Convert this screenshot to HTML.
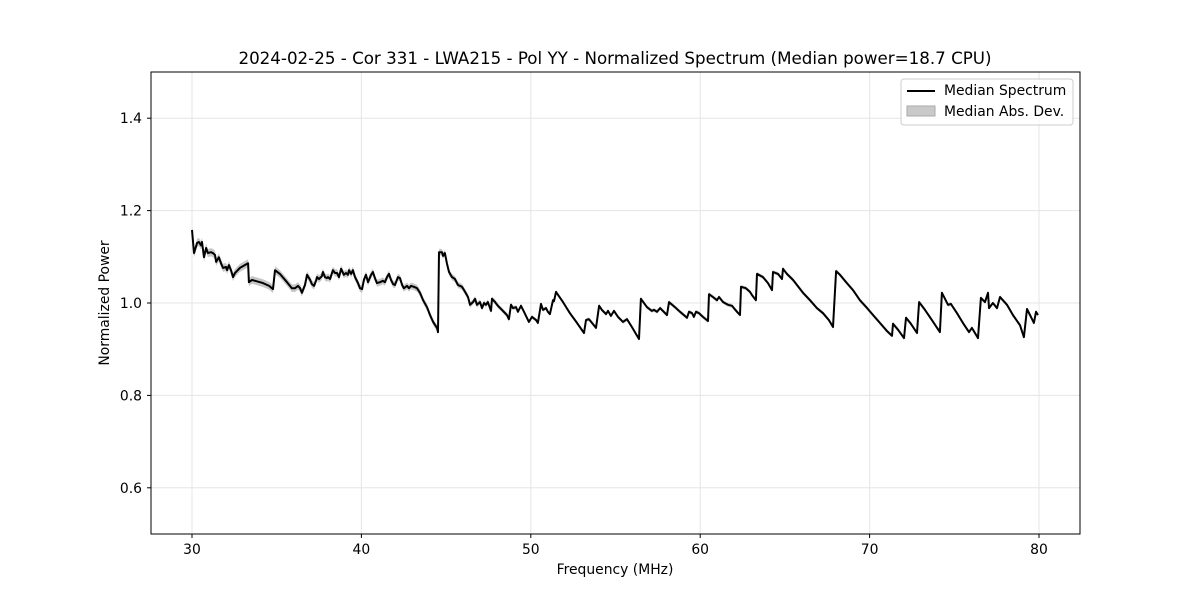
<!DOCTYPE html>
<html><head><meta charset="utf-8"><style>
body{margin:0;background:#fff;font-family:"Liberation Sans","DejaVu Sans",sans-serif}
svg text{font-family:"DejaVu Sans","Liberation Sans",sans-serif}
</style></head><body>
<svg id="chart" width="1200" height="600" xmlns="http://www.w3.org/2000/svg">
<rect width="1200" height="600" fill="#fff"/>
<text x="615" y="64" font-size="16.7" text-anchor="middle">2024-02-25 - Cor 331 - LWA215 - Pol YY - Normalized Spectrum (Median power=18.7 CPU)</text>
<g id="grid"></g>
<g id="series"></g>
<rect x="151" y="72" width="929" height="462" fill="none" stroke="#000" stroke-width="1"/>
<g id="axes"></g>
<text x="615" y="574" font-size="13.9" text-anchor="middle">Frequency (MHz)</text>
<text transform="translate(109,303) rotate(-90)" font-size="13.9" text-anchor="middle">Normalized Power</text>
<g>
<rect x="901" y="79" width="172" height="46" rx="3" fill="#fff" fill-opacity="0.8" stroke="#ccc"/>
<line x1="907" y1="91" x2="935" y2="91" stroke="#000" stroke-width="2"/>
<text x="944" y="95" font-size="13.9">Median Spectrum</text>
<rect x="907" y="106" width="28" height="10" fill="#bbb" fill-opacity="0.8" stroke="#aaa"/>
<text x="944" y="116" font-size="13.9">Median Abs. Dev.</text>
</g>
</svg>
<script>
const freqs=[30.00,30.12,30.30,30.41,30.53,30.59,30.71,30.83,30.94,31.12,31.24,31.36,31.42,31.59,31.71,31.83,32.01,32.07,32.18,32.30,32.42,32.54,32.83,33.31,33.36,33.54,34.19,34.55,34.78,34.90,35.19,35.61,35.90,36.08,36.26,36.38,36.49,36.67,36.79,36.97,37.08,37.20,37.32,37.38,37.50,37.67,37.73,37.85,37.97,38.03,38.15,38.32,38.44,38.56,38.68,38.80,38.97,39.09,39.21,39.27,39.39,39.50,39.62,39.80,39.92,40.04,40.15,40.27,40.39,40.57,40.68,40.80,40.92,41.10,41.27,41.39,41.51,41.63,41.75,41.87,41.98,42.16,42.28,42.40,42.51,42.69,42.81,42.93,43.10,43.28,43.46,43.64,43.87,44.05,44.23,44.46,44.52,44.58,44.76,44.82,44.93,45.05,45.17,45.35,45.52,45.70,45.94,46.12,46.29,
46.41,46.59,46.71,46.82,47.00,47.12,47.24,47.35,47.47,47.65,47.71,47.89,48.06,48.30,48.59,48.71,48.83,48.95,49.13,49.24,49.42,49.60,49.89,50.07,50.31,50.42,50.60,50.72,50.90,51.01,51.13,51.31,51.37,51.49,51.90,52.31,52.73,53.14,53.26,53.43,53.61,53.85,54.03,54.20,54.44,54.56,54.73,54.91,55.15,55.44,55.68,55.97,56.21,56.39,56.50,56.86,57.15,57.27,57.45,57.63,57.80,58.04,58.16,58.51,58.81,59.22,59.34,59.52,59.63,59.75,59.93,60.16,60.46,60.52,60.75,60.99,61.11,61.35,61.64,61.88,61.99,62.17,62.35,62.41,62.70,62.94,63.06,63.29,63.35,63.71,64.00,64.24,64.30,64.59,64.83,64.89,65.12,65.48,66.07,66.48,66.89,67.25,67.60,67.84,68.02,68.25,68.66,69.02,69.43,69.85,70.20,70.61,71.03,71.32,71.38,71.68,72.03,72.15,72.44,72.80,72.92,73.27,73.68,74.15,74.27,74.45,74.63,74.80,75.16,75.51,75.87,76.04,76.40,76.57,76.81,76.99,77.05,77.28,77.52,77.70,78.11,78.46,78.88,79.11,79.29,79.47,79.70,79.82,79.94];
const power=[1.158,1.108,1.130,1.132,1.125,1.132,1.099,1.119,1.108,1.110,1.108,1.104,1.089,1.099,1.086,1.076,1.078,1.071,1.082,1.071,1.056,1.065,1.076,1.086,1.045,1.050,1.043,1.037,1.030,1.071,1.063,1.045,1.032,1.032,1.037,1.032,1.022,1.039,1.061,1.050,1.041,1.037,1.048,1.056,1.052,1.058,1.067,1.056,1.054,1.056,1.052,1.071,1.065,1.065,1.056,1.074,1.061,1.065,1.061,1.071,1.063,1.071,1.056,1.043,1.032,1.030,1.050,1.061,1.045,1.061,1.067,1.054,1.043,1.045,1.048,1.045,1.056,1.063,1.050,1.041,1.039,1.056,1.054,1.039,1.032,1.037,1.032,1.037,1.035,1.032,1.022,1.006,0.991,0.974,0.959,0.946,0.937,1.110,1.110,1.102,1.108,1.086,1.067,1.056,1.052,1.039,1.035,1.024,1.013,
0.996,1.002,1.009,0.996,1.002,0.989,1.000,0.996,1.002,0.983,1.009,1.002,0.994,0.985,0.974,0.965,0.996,0.989,0.991,0.981,0.994,0.981,0.959,0.970,0.963,0.957,0.998,0.985,0.989,0.981,0.976,1.006,1.004,1.024,1.002,0.978,0.957,0.935,0.963,0.965,0.957,0.946,0.994,0.985,0.976,0.983,0.972,0.983,0.970,0.959,0.965,0.948,0.933,0.922,1.009,0.991,0.983,0.985,0.981,0.989,0.983,0.974,1.002,0.991,0.981,0.968,0.981,0.978,0.970,0.981,0.978,0.970,0.961,1.019,1.013,1.006,1.013,1.002,0.996,0.994,0.989,0.981,0.974,1.035,1.032,1.024,1.017,1.006,1.063,1.056,1.043,1.028,1.067,1.063,1.052,1.074,1.063,1.050,1.022,1.006,0.989,0.978,0.963,0.948,1.069,1.061,1.043,1.028,1.006,0.989,0.974,0.957,0.939,0.929,0.955,0.942,0.924,0.968,0.955,0.935,1.002,0.985,0.963,0.937,1.022,1.009,0.996,0.998,0.978,0.957,0.937,0.946,0.924,1.011,1.002,1.022,0.989,1.000,0.989,1.013,0.996,0.974,0.952,0.926,0.987,0.974,0.957,0.981,0.974];
const madFreq=[30,45,50,80];
const madVal=[0.009,0.007,0.004,0.004];
const xTicks=[30,40,50,60,70,80];
const yTicks=[0.6,0.8,1.0,1.2,1.4];
const yTickLabels=["0.6","0.8","1.0","1.2","1.4"];

const NS="http://www.w3.org/2000/svg";
const X0=151,X1=1080,Y0=72,Y1=534;
const xMin=27.58,xMax=82.42,yMin=0.5,yMax=1.5;
function xs(v){return X0+(v-xMin)/(xMax-xMin)*(X1-X0);}
function ys(v){return Y1-(v-yMin)/(yMax-yMin)*(Y1-Y0);}
function mad(f){for(let i=1;i<madFreq.length;i++){if(f<=madFreq[i]){const t=(f-madFreq[i-1])/(madFreq[i]-madFreq[i-1]);return madVal[i-1]+t*(madVal[i]-madVal[i-1]);}}return madVal[madVal.length-1];}
function mk(tag,attrs,parent){const e=document.createElementNS(NS,tag);for(const k in attrs)e.setAttribute(k,attrs[k]);parent.appendChild(e);return e;}
const grid=document.getElementById('grid'),axes=document.getElementById('axes'),series=document.getElementById('series');
xTicks.forEach(t=>{
  const gl=mk('line',{x1:xs(t),x2:xs(t),y1:Y0,y2:Y1,stroke:'#e5e5e5','stroke-width':1},grid);
  
  
  const tk=mk('line',{x1:xs(t),x2:xs(t),y1:Y1,y2:Y1+4,stroke:'#000'},axes);
  
  
  const tx=mk('text',{x:xs(t),y:Y1+20,'font-size':13.9,'text-anchor':'middle'},axes);
  tx.textContent=String(t);
  
  
});
yTicks.forEach((t,i)=>{
  const gl=mk('line',{x1:X0,x2:X1,y1:ys(t),y2:ys(t),stroke:'#e5e5e5','stroke-width':1},grid);
  
  
  const tk=mk('line',{x1:X0-4,x2:X0,y1:ys(t),y2:ys(t),stroke:'#000'},axes);
  
  
  const tx=mk('text',{x:X0-9,y:ys(t)+5,'font-size':13.9,'text-anchor':'end'},axes);
  tx.textContent=yTickLabels[i];
  
  
});
let up=[],dn=[];
for(let i=0;i<freqs.length;i++){const m=mad(freqs[i]);up.push(xs(freqs[i]).toFixed(1)+','+ys(power[i]+m).toFixed(1));dn.unshift(xs(freqs[i]).toFixed(1)+','+ys(power[i]-m).toFixed(1));}
const band=mk('polygon',{points:up.concat(dn).join(' '),fill:'#999','fill-opacity':0.55,stroke:'none'},series);


const pts=freqs.map((f,i)=>xs(f).toFixed(1)+','+ys(power[i]).toFixed(1)).join(' ');
const line=mk('polyline',{points:pts,fill:'none',stroke:'#000','stroke-width':2,'stroke-linejoin':'round'},series);


</script>
</body></html>
